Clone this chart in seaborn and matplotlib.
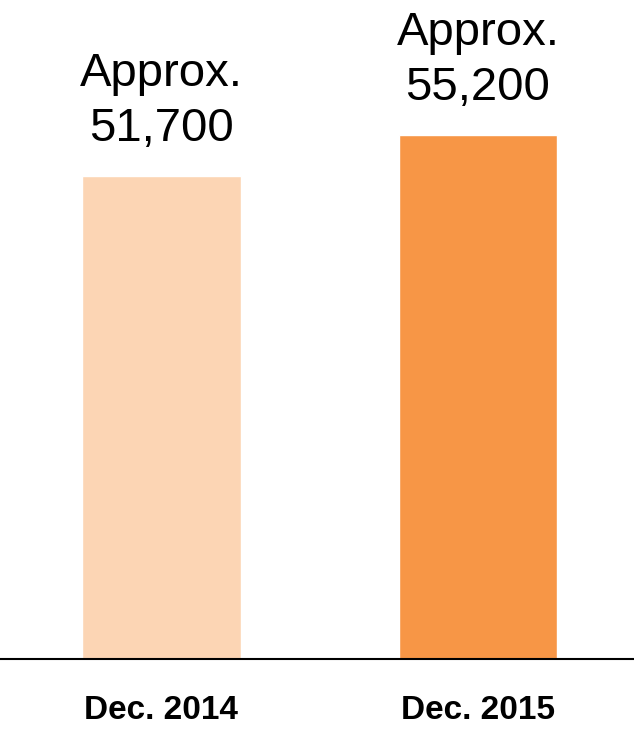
import matplotlib
matplotlib.use("Agg")
import matplotlib.pyplot as plt
import seaborn as sns
import pandas as pd

periods = ["Dec. 2014", "Dec. 2015"]
values = [51700, 55200]
labels = ["Approx.\n51,700", "Approx.\n55,200"]
colors = ["#FCD5B4", "#F79646"]

sns.set_theme(style="white")
plt.rcParams["font.family"] = ["Liberation Sans", "DejaVu Sans"]

df = pd.DataFrame({"period": periods, "value": values})

fig = plt.figure(figsize=(6.34, 7.29), dpi=100)
ax = fig.add_axes([0, 1 - 659 / 729, 1, 659 / 729])

sns.barplot(data=df, x="period", y="value", hue="period", palette=colors,
            width=0.5, saturation=1, legend=False, ax=ax)

ax.set_xlim(-0.51, 1.493)
ax.set_ylim(10450, 66740)

for i, (v, t) in enumerate(zip(values, labels)):
    ax.annotate(t, xy=(i, v), xytext=(0, 18), textcoords="offset points",
                ha="center", va="bottom", fontsize=34, color="black",
                linespacing=1.33)

ax.set_xlabel("")
ax.set_ylabel("")
ax.set_yticks([])
ax.set_xticks([0, 1])
ax.set_xticklabels(periods, fontsize=24, fontweight="bold", color="black")
ax.tick_params(axis="x", length=0, pad=26)

for side in ["top", "left", "right"]:
    ax.spines[side].set_visible(False)
ax.spines["bottom"].set_color("black")
ax.spines["bottom"].set_linewidth(1.5)

fig.savefig("out.png", dpi=100)
